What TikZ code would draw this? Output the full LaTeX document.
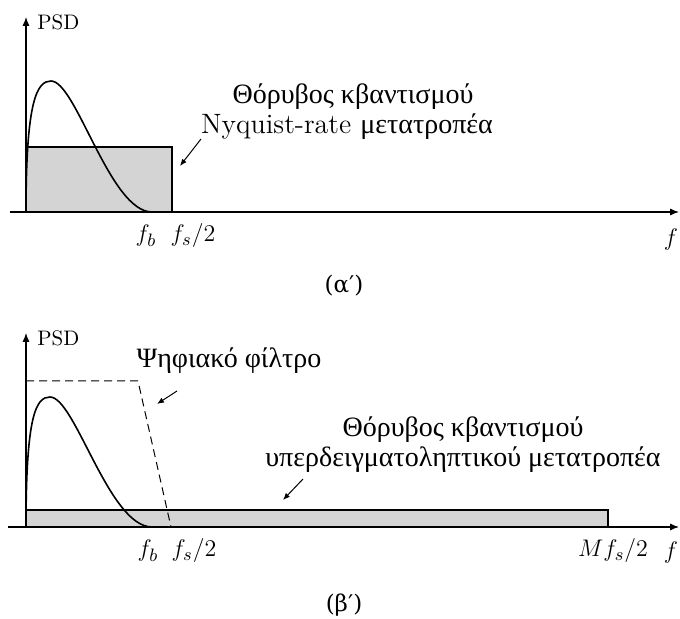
\documentclass[tikz,border=0pt]{standalone}
\usepackage{fontspec}
\newfontfamily\gr{Liberation Serif}
\newfontfamily\grc{DejaVu Serif}
\usetikzlibrary{arrows.meta}
\begin{document}
\begin{tikzpicture}[x=0.5pt,y=-0.5pt,
  axis/.style={line width=0.6pt,-{Latex[length=4.5pt,width=3.6pt]}},
  noise/.style={draw,line width=0.75pt,fill={rgb,255:red,212;green,212;blue,212}},
  sig/.style={line width=0.8pt},
  filt/.style={line width=0.5pt,dash pattern=on 4pt off 2.5pt},
  ann/.style={line width=0.5pt,-{Latex[length=3.5pt,width=2.8pt]}},
  lbl/.style={font=\fontsize{12.5}{14}\selectfont,inner sep=0pt},
  psd/.style={font=\fontsize{10.5}{12}\selectfont,inner sep=0pt},
  caplbl/.style={font=\grc\fontsize{11.5}{14}\selectfont,inner sep=0pt},
  txt/.style={font=\fontsize{14}{16}\selectfont,inner sep=0pt}]
\useasboundingbox (0,0) rectangle (680,619);

% ---------- (a) ----------
\coordinate (o1) at (26,212);
\coordinate (y1) at (26,17);
\coordinate (xs1) at (10,212);
\coordinate (xe1) at (679,212);
\draw[noise] (26,212) rectangle (172,147);
\draw[sig] (o1) .. controls (26,100) and (37,81) .. (51,81)
  .. controls (76,81) and (110,212) .. (152,212);
\draw[axis] (xs1) -- (xe1);
\draw[axis] (o1) -- (y1);
\node[psd,anchor=base west] (psd1) at (37,30) {PSD};
\node[lbl,anchor=base] (fb1) at (146,242) {$f_b$};
\node[lbl,anchor=base] (fs1) at (193,242) {$f_s/2$};
\node[lbl,anchor=base] (f1) at (671,246) {$f$};
\node[txt,anchor=base] (t1a) at (353,104) {\gr Θόρυβος κβαντισμού};
\node[txt,anchor=base] (t1b) at (347,134) {Nyquist-rate {\gr μετατροπέα}};
\coordinate (a1s) at (201,139);
\coordinate (a1e) at (180,166);
\draw[ann] (a1s) -- (a1e);
\node[caplbl,anchor=base] (cap1) at (344,293) {(α′)};

% ---------- (b) ----------
\coordinate (o2) at (26,527);
\coordinate (y2) at (26,333);
\coordinate (xs2) at (8,527);
\coordinate (xe2) at (679,527);
\draw[noise] (26,527) rectangle (608,510);
\draw[sig] (o2) .. controls (26,415) and (36,397) .. (50,397)
  .. controls (75,397) and (109,527) .. (152,527);
\draw[filt] (26,381) -- (138,381) -- (171,527);
\draw[axis] (xs2) -- (xe2);
\draw[axis] (o2) -- (y2);
\node[psd,anchor=base west] (psd2) at (37,346) {PSD};
\node[lbl,anchor=base] (fb2) at (148,557) {$f_b$};
\node[lbl,anchor=base] (fs2) at (194,557) {$f_s/2$};
\node[lbl,anchor=base] (mf2) at (613,557) {$Mf_s/2$};
\node[lbl,anchor=base] (f2) at (671,559) {$f$};
\node[txt,anchor=base] (t2) at (229,368) {\gr Ψηφιακό φίλτρο};
\coordinate (a2s) at (177,391);
\coordinate (a2e) at (157,404);
\draw[ann] (a2s) -- (a2e);
\node[txt,anchor=base] (t3a) at (463,437) {\gr Θόρυβος κβαντισμού};
\node[txt,anchor=base] (t3b) at (463,467) {\gr υπερδειγματοληπτικού μετατροπέα};
\coordinate (a3s) at (303,479);
\coordinate (a3e) at (283,500);
\draw[ann] (a3s) -- (a3e);
\node[caplbl,anchor=base] (cap2) at (344,611) {(β′)};
\end{tikzpicture}
\end{document}
